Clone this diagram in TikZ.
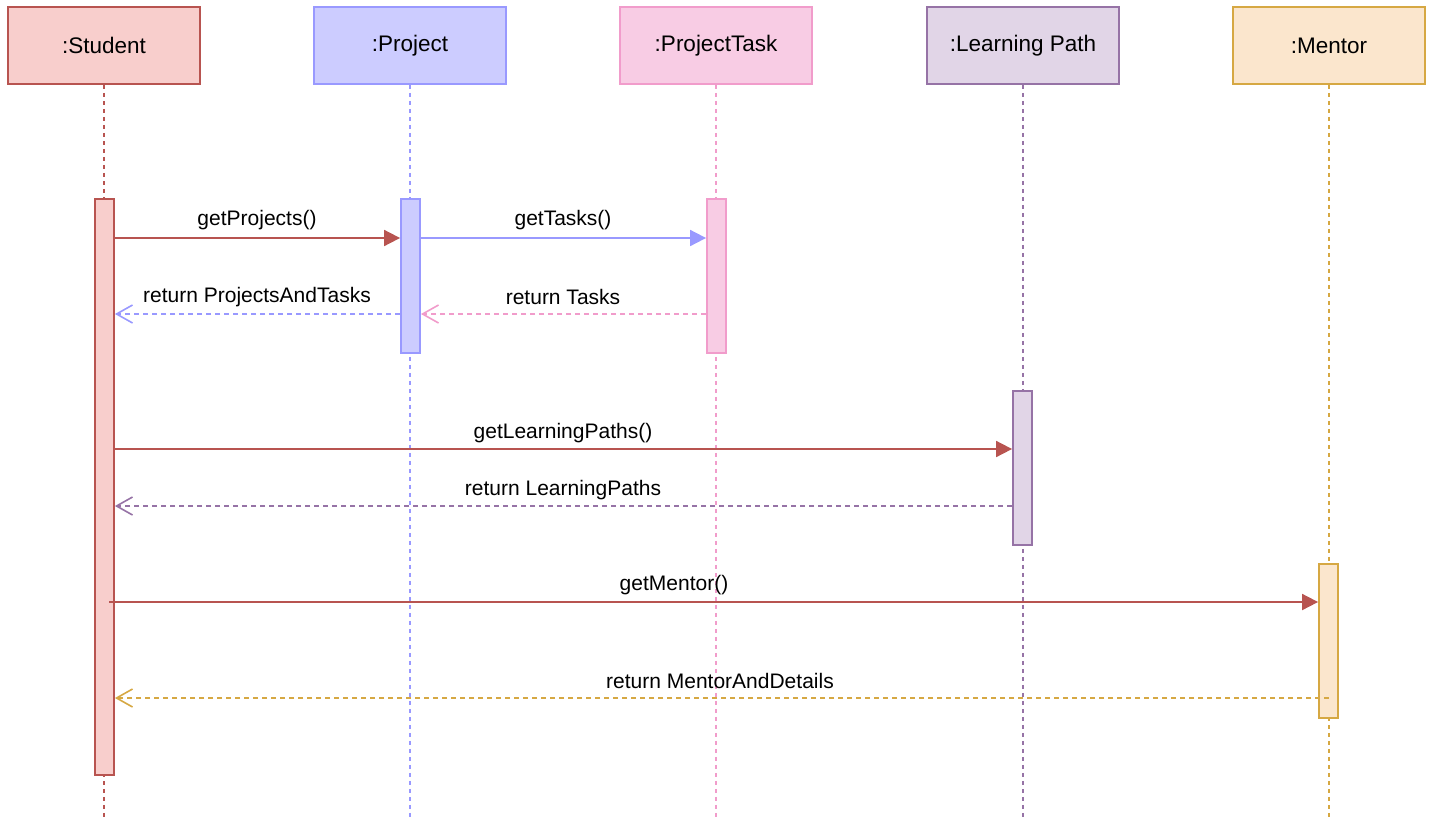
\documentclass[tikz,border=0pt]{standalone}
\usepackage{fontspec}
\setmainfont{Liberation Sans}
\usetikzlibrary{arrows.meta}
\definecolor{stuF}{HTML}{F8CECC}\definecolor{stuD}{HTML}{B85450}
\definecolor{proF}{HTML}{CCCCFF}\definecolor{proD}{HTML}{9999FF}
\definecolor{tskF}{HTML}{F8CCE4}\definecolor{tskD}{HTML}{F19CCB}
\definecolor{lrnF}{HTML}{E1D5E7}\definecolor{lrnD}{HTML}{9673A6}
\definecolor{menF}{HTML}{FBE6CD}\definecolor{menD}{HTML}{D6A843}
\tikzset{
  box/.style={draw, line width=1.8pt, minimum width=192pt, minimum height=77pt, inner sep=0pt, font=\fontsize{22.5}{26}\selectfont},
  actbar/.style={draw, line width=1.8pt, minimum width=19pt, inner sep=0pt},
  life/.style={line width=1.3pt, dash pattern=on 4pt off 4pt},
  call/.style={line width=1.8pt, -{Triangle[length=16pt,width=16pt]}},
  ret/.style={line width=1.6pt, dash pattern=on 5pt off 4pt, -{Straight Barb[length=16pt,width=18pt,line width=1.6pt]}},
  lbl/.style={font=\fontsize{21}{24}\selectfont, inner sep=0pt}
}
\begin{document}
\begin{tikzpicture}[x=1pt,y=-1pt]
\useasboundingbox (0,0) rectangle (1434,817);
% header boxes
\node[box, fill=stuF, draw=stuD] (student) at (104,45.5) {:Student};
\node[box, fill=proF, draw=proD] (project) at (410,45.5) {:Project};
\node[box, fill=tskF, draw=tskD] (task) at (716,45.5) {:ProjectTask};
\node[box, fill=lrnF, draw=lrnD] (path) at (1023,45.5) {:Learning Path};
\node[box, fill=menF, draw=menD] (mentor) at (1329,45.5) {:Mentor};
% lifeline ends
\coordinate (studentend) at (104,817);
\coordinate (projectend) at (410,817);
\coordinate (taskend) at (716,817);
\coordinate (pathend) at (1023,817);
\coordinate (mentorend) at (1329,817);
\draw[life, stuD] (student.south) -- (studentend);
\draw[life, proD] (project.south) -- (projectend);
\draw[life, tskD] (task.south) -- (taskend);
\draw[life, lrnD] (path.south) -- (pathend);
\draw[life, menD] (mentor.south) -- (mentorend);
% activation bars
\node[actbar, fill=stuF, draw=stuD, minimum height=576pt] (sbar) at (104.5,487) {};
\node[actbar, fill=proF, draw=proD, minimum height=154pt] (pbar) at (410.5,276) {};
\node[actbar, fill=tskF, draw=tskD, minimum height=154pt] (tbar) at (716.5,276) {};
\node[actbar, fill=lrnF, draw=lrnD, minimum height=154pt] (lbar) at (1022.5,468) {};
\node[actbar, fill=menF, draw=menD, minimum height=154pt] (mbar) at (1328.5,641) {};
% message rows
\coordinate (r1) at (0,238);
\coordinate (r2) at (0,314);
\coordinate (r3) at (0,449);
\coordinate (r4) at (0,506);
\coordinate (r5) at (0,602);
\coordinate (r6) at (0,698);
\coordinate (mstart) at (109,602);
% messages
\draw[call, stuD] (sbar.east |- r1) -- (pbar.west |- r1);
\draw[call, proD] (pbar.east |- r1) -- (tbar.west |- r1);
\draw[ret, proD] (pbar.west |- r2) -- (sbar.east |- r2);
\draw[ret, tskD] (tbar.west |- r2) -- (pbar.east |- r2);
\draw[call, stuD] (sbar.east |- r3) -- (lbar.west |- r3);
\draw[ret, lrnD] (lbar.west |- r4) -- (sbar.east |- r4);
\draw[call, stuD] (mstart) -- (mbar.west |- r5);
\draw[ret, menD] (mentor.south |- r6) -- (sbar.east |- r6);
% labels
\node[lbl] (l1) at (257,220) {getProjects()};
\node[lbl] (l2) at (563,220) {getTasks()};
\node[lbl] (l3) at (257,297) {return ProjectsAndTasks};
\node[lbl] (l4) at (563,297) {return Tasks};
\node[lbl] (l5) at (563,433) {getLearningPaths()};
\node[lbl] (l6) at (563,490) {return LearningPaths};
\node[lbl] (l7) at (674,585) {getMentor()};
\node[lbl] (l8) at (720,681) {return MentorAndDetails};
\end{tikzpicture}
\end{document}
